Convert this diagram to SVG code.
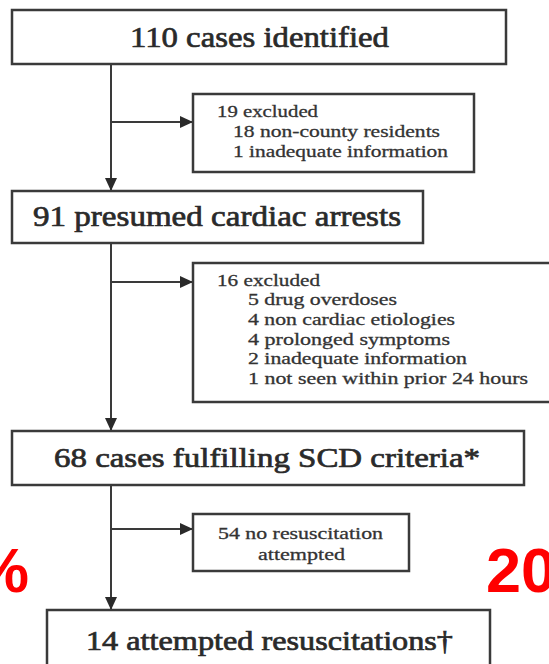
<svg xmlns="http://www.w3.org/2000/svg" width="549" height="664" viewBox="0 0 549 664">
<defs>
<marker id="arr" markerUnits="userSpaceOnUse" markerWidth="14" markerHeight="12" refX="13" refY="6" orient="auto">
<path d="M0,0 L13,6 L0,12 Z" fill="#2a2a2a"/>
</marker>
<style>
.box{fill:#fff;stroke:#3a3a3a;stroke-width:2.5}
.line{fill:none;stroke:#3a3a3a;stroke-width:2}
.main{font-family:"Liberation Serif","Times New Roman",serif;fill:#2a2a2a;stroke:#2a2a2a;stroke-width:0.7}
.small{font-family:"Liberation Serif","Times New Roman",serif;fill:#333;stroke:#333;stroke-width:0.3;font-size:17px}
.red{font-family:"Liberation Sans",Arial,sans-serif;font-weight:bold;fill:#ff0000;font-size:63px}
</style>
</defs>
<rect width="549" height="664" fill="#fff"/>
<g id="connectors">
<line class="line" x1="111" y1="64" x2="111" y2="191" marker-end="url(#arr)"/>
<line class="line" x1="111" y1="122" x2="193" y2="122" marker-end="url(#arr)"/>
<line class="line" x1="111" y1="243" x2="111" y2="431" marker-end="url(#arr)"/>
<line class="line" x1="111" y1="282" x2="193" y2="282" marker-end="url(#arr)"/>
<line class="line" x1="111" y1="485" x2="111" y2="610" marker-end="url(#arr)"/>
<line class="line" x1="111" y1="529" x2="193" y2="529" marker-end="url(#arr)"/>
</g>
<g id="n1">
<rect class="box" x="12" y="10" width="494" height="54"/>
<text class="main" x="130" y="47" font-size="30" textLength="259" lengthAdjust="spacingAndGlyphs">110 cases identified</text>
</g>
<g id="ex1">
<rect class="box" x="193" y="94" width="281" height="78"/>
<text class="small" x="217" y="117" textLength="101" lengthAdjust="spacingAndGlyphs">19 excluded</text>
<text class="small" x="233" y="137" textLength="207" lengthAdjust="spacingAndGlyphs">18 non-county residents</text>
<text class="small" x="233" y="157" textLength="215" lengthAdjust="spacingAndGlyphs">1 inadequate information</text>
</g>
<g id="n2">
<rect class="box" x="12" y="191" width="411" height="52"/>
<text class="main" x="33" y="226" font-size="29" textLength="368" lengthAdjust="spacingAndGlyphs">91 presumed cardiac arrests</text>
</g>
<g id="ex2">
<rect class="box" x="193" y="263" width="370" height="139"/>
<text class="small" x="217" y="286" textLength="103" lengthAdjust="spacingAndGlyphs">16 excluded</text>
<text class="small" x="248" y="305" textLength="149" lengthAdjust="spacingAndGlyphs">5 drug overdoses</text>
<text class="small" x="248" y="325" textLength="207" lengthAdjust="spacingAndGlyphs">4 non cardiac etiologies</text>
<text class="small" x="248" y="345" textLength="202" lengthAdjust="spacingAndGlyphs">4 prolonged symptoms</text>
<text class="small" x="248" y="364" textLength="219" lengthAdjust="spacingAndGlyphs">2 inadequate information</text>
<text class="small" x="248" y="384" textLength="280" lengthAdjust="spacingAndGlyphs">1 not seen within prior 24 hours</text>
</g>
<g id="n3">
<rect class="box" x="12" y="431" width="512" height="54"/>
<text class="main" x="54" y="467" font-size="28" textLength="426" lengthAdjust="spacingAndGlyphs">68 cases fulfilling SCD criteria*</text>
</g>
<g id="ex3">
<rect class="box" x="193" y="514" width="216" height="57"/>
<text class="small" x="218" y="539" font-size="16" textLength="165" lengthAdjust="spacingAndGlyphs">54 no resuscitation</text>
<text class="small" x="258" y="560" font-size="16" textLength="87" lengthAdjust="spacingAndGlyphs">attempted</text>
</g>
<g id="n4">
<rect class="box" x="47" y="610" width="443" height="62"/>
<text class="main" x="86" y="650" font-size="27" textLength="367" lengthAdjust="spacingAndGlyphs">14 attempted resuscitations†</text>
</g>
<text class="red" x="29" y="592" text-anchor="end">%</text>
<text class="red" x="486" y="592">20</text>
</svg>
